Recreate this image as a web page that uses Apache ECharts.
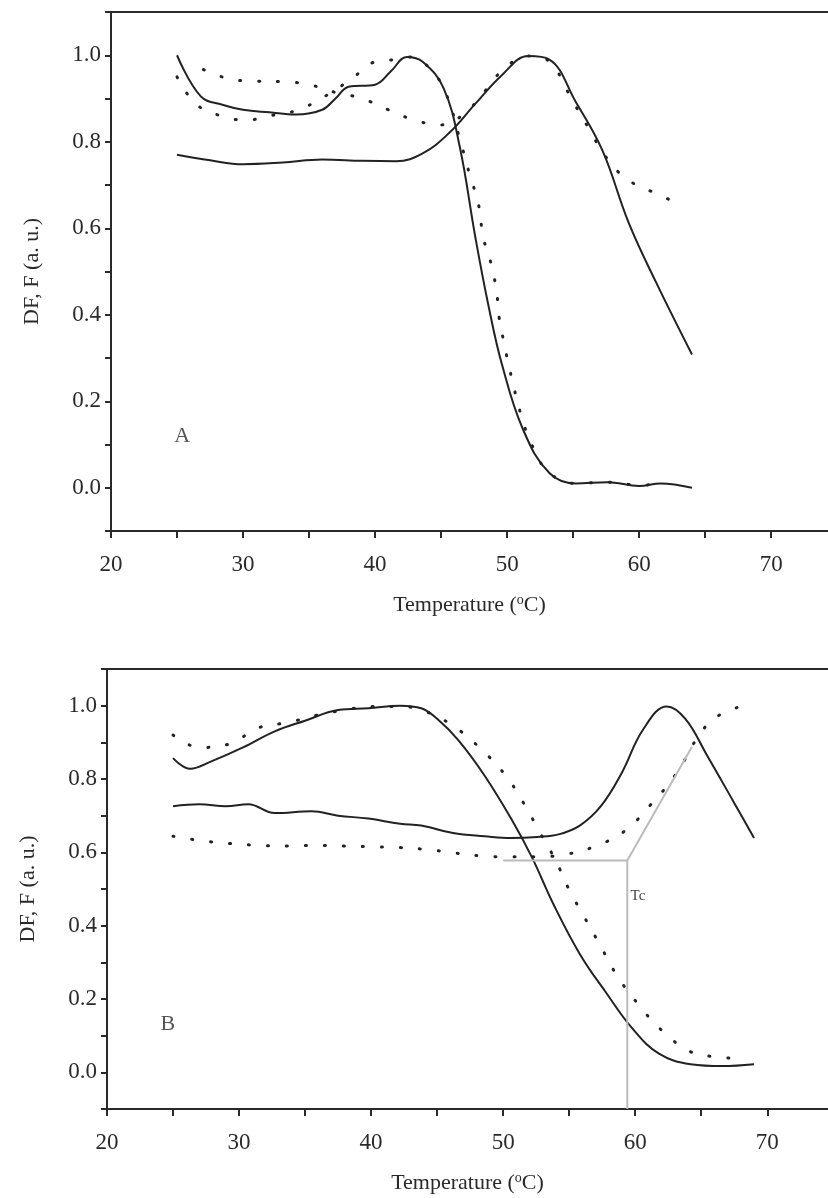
<!DOCTYPE html>
<html>
<head>
<meta charset="utf-8">
<script src="https://cdn.jsdelivr.net/npm/echarts@6/dist/echarts.min.js"></script>
<style>html,body{margin:0;padding:0;background:#fff;}#chart{width:828px;height:1198px;}</style>
</head>
<body>
<div id="chart"></div>
<script>
// panel A
var aSolid1 = [[25,1.0],[26.8,0.905],[28.5,0.885],[30,0.874],[32,0.868],[34,0.863],[36,0.874],[37,0.9],[38,0.927],[40,0.932],[41.2,0.963],[42.4,0.996],[43.6,0.985],[45.2,0.923],[46.4,0.79],[47.6,0.578],[48.6,0.419],[49.6,0.286],[51.2,0.135],[53.2,0.034],[55.2,0.01],[57.6,0.013],[60,0.004],[61.6,0.01],[64,0.0]];
var aSolid2 = [[25,0.77],[27.5,0.757],[30,0.748],[33,0.752],[36,0.759],[39,0.756],[41.6,0.755],[43.6,0.773],[45.6,0.82],[47.6,0.888],[49.6,0.954],[51.6,0.998],[53.2,0.99],[55.2,0.892],[57.2,0.781],[59.2,0.613],[61.2,0.48],[64,0.308]];
var aDot1 = [[25,0.95],[26.4,0.888],[28.2,0.861],[30.2,0.85],[32.2,0.861],[34.2,0.874],[36.2,0.905],[38.2,0.945],[40,0.985],[41.5,0.99],[42.4,0.996],[43.6,0.985],[45.2,0.923],[46.6,0.786],[47.2,0.72],[47.8,0.66],[48.2,0.578],[48.8,0.516],[49.2,0.454],[49.4,0.392],[49.8,0.33],[50.2,0.272],[51.2,0.153],[52,0.091],[53.2,0.034],[55.2,0.01],[57.6,0.013],[60,0.006],[62,0.01]];
var aDot2 = [[27,0.967],[29,0.945],[31,0.94],[33,0.939],[35,0.932],[37,0.914],[39,0.9],[41,0.874],[43,0.85],[45,0.839],[46.8,0.866],[48.4,0.92],[49.8,0.97],[51.6,0.998],[53.2,0.985],[55,0.892],[56.2,0.83],[57.4,0.768],[59,0.715],[61,0.684],[63,0.657]];
// panel B
var bSolid1 = [[25,0.857],[26.3,0.828],[27.9,0.848],[30.3,0.886],[32.7,0.93],[35,0.959],[37.5,0.988],[39.8,0.993],[42.2,1.0],[43.8,0.993],[45,0.964],[46.6,0.906],[48.6,0.809],[50.6,0.692],[52.2,0.585],[53.8,0.459],[55.8,0.323],[57.8,0.217],[59.8,0.119],[61.8,0.051],[64.2,0.022],[66.6,0.017],[69,0.022]];
var bDot1 = [[25,0.92],[27,0.886],[29.3,0.896],[31.5,0.94],[33.7,0.954],[35.9,0.974],[38,0.988],[40,0.998],[42.2,0.998],[44.2,0.983],[46.2,0.945],[48.2,0.886],[50.2,0.809],[51.6,0.731],[52.8,0.653],[54,0.576],[55,0.498],[56.2,0.42],[57.4,0.343],[58.6,0.265],[60.2,0.187],[62,0.115],[64.2,0.056],[66.2,0.042],[68.2,0.037]];
var bSolid2 = [[25,0.726],[27,0.731],[29,0.726],[30.7,0.731],[32.7,0.707],[35.5,0.712],[37.5,0.7],[39.8,0.692],[42.2,0.678],[43.8,0.673],[46.2,0.653],[48.6,0.644],[50.6,0.639],[52.6,0.642],[54.2,0.649],[55.8,0.673],[57.4,0.726],[59,0.818],[60.6,0.935],[62.4,0.998],[63.8,0.964],[65.4,0.867],[67.4,0.741],[69,0.639]];
var bDot2 = [[25,0.644],[27.3,0.631],[29.3,0.624],[31.5,0.619],[33.7,0.617],[35.9,0.619],[38,0.617],[40.2,0.615],[42.2,0.613],[44.4,0.607],[46.4,0.598],[48.4,0.59],[50.4,0.588],[52.6,0.588],[54.8,0.595],[57,0.617],[59.2,0.658],[61.2,0.731],[63,0.809],[65.6,0.954],[68,0.998]];
var tcLine = [[50,0.578],[59.4,0.578],[64.3,0.888]];
var tcDrop = [[59.4,0.578],[59.4,-0.1]];
var xTicks = [20,30,40,50,60,70];
var yTicks = ['0.0','0.2','0.4','0.6','0.8','1.0'];

var FONT = 'Liberation Serif';
var INK = '#2a2a2a';

function xAx(gi, maxT){
    return {
        gridIndex: gi, type: 'value', min: 20, max: maxT, interval: 5,
        name: '{t|Temperature (}{s|o}{t|C)}', nameLocation: 'middle', nameGap: 62,
        nameTextStyle: {rich: {t: {fontFamily: FONT, fontSize: 22, color: INK},
                               s: {fontFamily: FONT, fontSize: 14, color: INK, verticalAlign: 'top', padding: [0,0,10,0]}}},
        axisLine: {onZero: false, lineStyle: {color: INK, width: 2}},
        axisTick: {length: 7, lineStyle: {color: INK, width: 2}},
        axisLabel: {fontFamily: FONT, fontSize: 23, color: INK, margin: 22, showMaxLabel: false,
            formatter: function(v){ return xTicks.indexOf(v) >= 0 ? v : ''; }},
        splitLine: {show: false}
    };
}
function topAx(gi, maxT){
    return {gridIndex: gi, type: 'value', position: 'top', min: 20, max: maxT,
        axisLine: {onZero: false, lineStyle: {color: INK, width: 2}},
        axisTick: {show: false}, axisLabel: {show: false}, splitLine: {show: false}};
}
function yAx(gi){
    return {
        gridIndex: gi, type: 'value', min: -0.1, max: 1.1, interval: 0.1,
        name: 'DF, F (a. u.)', nameLocation: 'middle', nameGap: 68,
        nameTextStyle: {fontFamily: FONT, fontSize: 22, color: INK},
        axisLine: {onZero: false, lineStyle: {color: INK, width: 2}},
        axisTick: {length: 6, lineStyle: {color: INK, width: 2}},
        axisLabel: {fontFamily: FONT, fontSize: 23, color: INK, margin: 10,
            formatter: function(v){ var s = Math.abs(v).toFixed(1); return yTicks.indexOf(s) >= 0 && v > -0.05 ? s : ''; }},
        splitLine: {show: false}
    };
}
function solid(gi, d){
    return {type: 'line', xAxisIndex: gi * 2, yAxisIndex: gi, data: d, smooth: 0.4, showSymbol: false,
        lineStyle: {color: '#222', width: 2}};
}
function dotted(gi, d){
    return {type: 'line', xAxisIndex: gi * 2, yAxisIndex: gi, data: d, smooth: 0.4, showSymbol: false,
        lineStyle: {color: '#222', width: 3, type: [1, 18], cap: 'round'}};
}

var myChart = echarts.init(document.getElementById('chart'));
var option = {
    animation: false,
    grid: [
        {left: 111, top: 12, right: 0, height: 519},
        {left: 107, top: 669, right: 0, height: 440}
    ],
    xAxis: [xAx(0, 74.3), topAx(0, 74.3), xAx(1, 74.6), topAx(1, 74.6)],
    yAxis: [yAx(0), yAx(1)],
    series: [
        solid(0, aSolid1), solid(0, aSolid2), dotted(0, aDot1), dotted(0, aDot2),
        solid(1, bSolid1), solid(1, bSolid2), dotted(1, bDot1), dotted(1, bDot2),
        {type: 'line', xAxisIndex: 2, yAxisIndex: 1, data: tcLine, showSymbol: false,
            lineStyle: {color: '#bbb', width: 2}},
        {type: 'line', xAxisIndex: 2, yAxisIndex: 1, data: tcDrop, showSymbol: false,
            lineStyle: {color: '#bbb', width: 2},
            markPoint: {symbol: 'circle', symbolSize: 0,
                data: [{coord: [59.5, 0.48], value: 'Tc',
                    label: {show: true, formatter: 'Tc', position: 'right', distance: 2,
                        fontFamily: FONT, fontSize: 15, color: '#444'}}]}},
        {type: 'scatter', xAxisIndex: 0, yAxisIndex: 0, data: [[25.4, 0.12]], symbolSize: 0,
            label: {show: true, formatter: 'A', position: 'inside', fontFamily: FONT, fontSize: 22, color: INK}},
        {type: 'scatter', xAxisIndex: 2, yAxisIndex: 1, data: [[24.6, 0.13]], symbolSize: 0,
            label: {show: true, formatter: 'B', position: 'inside', fontFamily: FONT, fontSize: 22, color: INK}}
    ]
};
myChart.setOption(option);
</script>
</body>
</html>
